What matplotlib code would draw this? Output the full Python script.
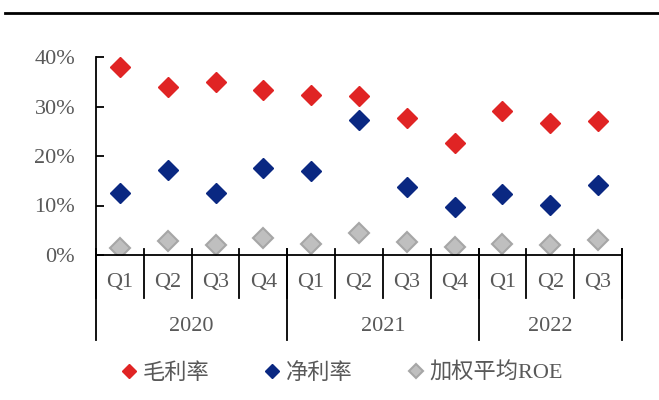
import numpy as np
import matplotlib.pyplot as plt
from matplotlib.lines import Line2D

plt.rcParams['font.family'] = ['Liberation Serif', 'Noto Sans CJK SC']

quarters = ["Q1", "Q2", "Q3", "Q4", "Q1", "Q2", "Q3", "Q4", "Q1", "Q2", "Q3"]
years = ["2020", "2021", "2022"]
year_counts = [4, 4, 3]

gross_margin = [37.9, 33.9, 34.9, 33.3, 32.3, 32.2, 27.6, 22.6, 29.0, 26.6, 27.0]
net_margin = [12.5, 17.1, 12.5, 17.5, 16.9, 27.2, 13.8, 9.7, 12.3, 10.1, 14.1]
roe = [1.4, 2.8, 2.0, 3.4, 2.2, 4.4, 2.7, 1.7, 2.2, 2.1, 3.0]

labels = ["毛利率", "净利率", "加权平均ROE"]
text_color = "#595959"

fig = plt.figure(figsize=(6.59, 4.0), dpi=100)
ax = fig.add_axes([96 / 659, 145 / 400, 526 / 659, 198 / 400])

x = np.arange(len(quarters))
ms = 10.5
ax.plot(x, np.array(gross_margin) / 100, "D", ms=ms, color="#E02424", mec="#E02424", label=labels[0])
ax.plot(x, np.array(net_margin) / 100, "D", ms=ms, color="#0A2882", mec="#0A2882", label=labels[1])
ax.plot(x, np.array(roe) / 100, "D", ms=ms, color="#BFBFBF", mec="#A6A6A6", mew=1.5, label=labels[2])

ax.set_xlim(-0.5, len(quarters) - 0.5)
ax.set_ylim(0, 0.4)
ax.set_yticks([0, 0.1, 0.2, 0.3, 0.4])
ax.set_yticklabels(["0%", "10%", "20%", "30%", "40%"])
ax.tick_params(axis="y", direction="in", length=6, width=1.3, pad=15,
               labelsize=16, labelcolor=text_color)
ax.set_xticks([])
for s in ["top", "right"]:
    ax.spines[s].set_visible(False)
ax.spines["left"].set_linewidth(1.3)
ax.spines["bottom"].set_linewidth(1.3)

# category boundaries and two-level labels
tr = ax.get_xaxis_transform()
for b in np.arange(len(quarters) + 1) - 0.5:
    ax.plot([b, b], [0.03, -0.217], color="black", lw=1.3, transform=tr, clip_on=False)
for i, q in enumerate(quarters):
    ax.text(i, -0.141, q, ha="center", va="center", fontsize=16, color=text_color,
            transform=tr)
start = -0.5
edges = [start]
for y, n in zip(years, year_counts):
    ax.text(start + n / 2, -0.359, y, ha="center", va="center", fontsize=16,
            color=text_color, transform=tr)
    start += n
    edges.append(start)
for b in edges:
    ax.plot([b, b], [0.03, -0.429], color="black", lw=1.3, transform=tr, clip_on=False)

# top rule
fig.add_artist(Line2D([5 / 659, 1], [1 - 13 / 400, 1 - 13 / 400], color="black", lw=2))

leg = fig.legend(loc="center", bbox_to_anchor=(342 / 659, 1 - 373 / 400), ncol=3,
                 frameon=False, fontsize=16, markerscale=0.65, handlelength=0.7,
                 handletextpad=0.25, columnspacing=2.5, labelcolor=text_color)

fig.savefig("out.png", dpi=100)
